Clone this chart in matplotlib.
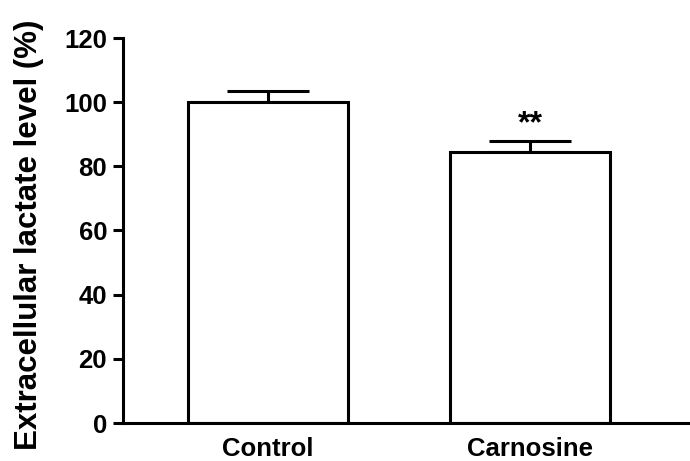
import matplotlib
matplotlib.use("Agg")
import matplotlib.pyplot as plt

categories = ["Control", "Carnosine"]
values = [100.0, 84.5]
errors = [3.5, 3.5]
annotations = ["", "**"]
yticks = [0, 20, 40, 60, 80, 100, 120]

plt.rcParams['font.family'] = ['Liberation Sans', 'DejaVu Sans']
plt.rcParams['font.weight'] = 'bold'

fig = plt.figure(figsize=(6.9, 4.61), dpi=100)
ax = fig.add_axes([123/690, 1-423/461, 1-123/690, (423-38)/461])

x = list(range(len(categories)))
lw = 2.2
ax.bar(x, values, width=0.61, color='white', edgecolor='black', linewidth=lw, zorder=2)
ax.errorbar(x, values, yerr=[[0]*len(errors), errors], fmt='none', ecolor='black',
            elinewidth=lw, capsize=29.5, capthick=lw, zorder=1)
for xi, v, e, a in zip(x, values, errors, annotations):
    if a:
        ax.text(xi, v + e + 5.0, a, ha='center', va='center', fontsize=23, fontweight='bold')

ax.set_ylim(0, 120)
ax.set_xlim(-0.553, 1.61)
ax.set_yticks(yticks)
ax.set_xticks(x)
ax.set_xticklabels(categories)
ax.tick_params(axis='x', length=0, pad=10, labelsize=18.5)
ax.tick_params(axis='y', length=7, width=lw, pad=4.5, labelsize=18.5)
for t in ax.get_xticklabels() + ax.get_yticklabels():
    t.set_fontweight('bold')
ax.spines['top'].set_visible(False)
ax.spines['right'].set_visible(False)
ax.spines['left'].set_linewidth(lw)
ax.spines['bottom'].set_linewidth(lw)
ax.set_ylabel("Extracellular lactate level (%)", fontsize=22.5, fontweight='bold', va='center')
ax.yaxis.set_label_coords(-0.166, 0.49)

fig.savefig("out.png", dpi=100)
